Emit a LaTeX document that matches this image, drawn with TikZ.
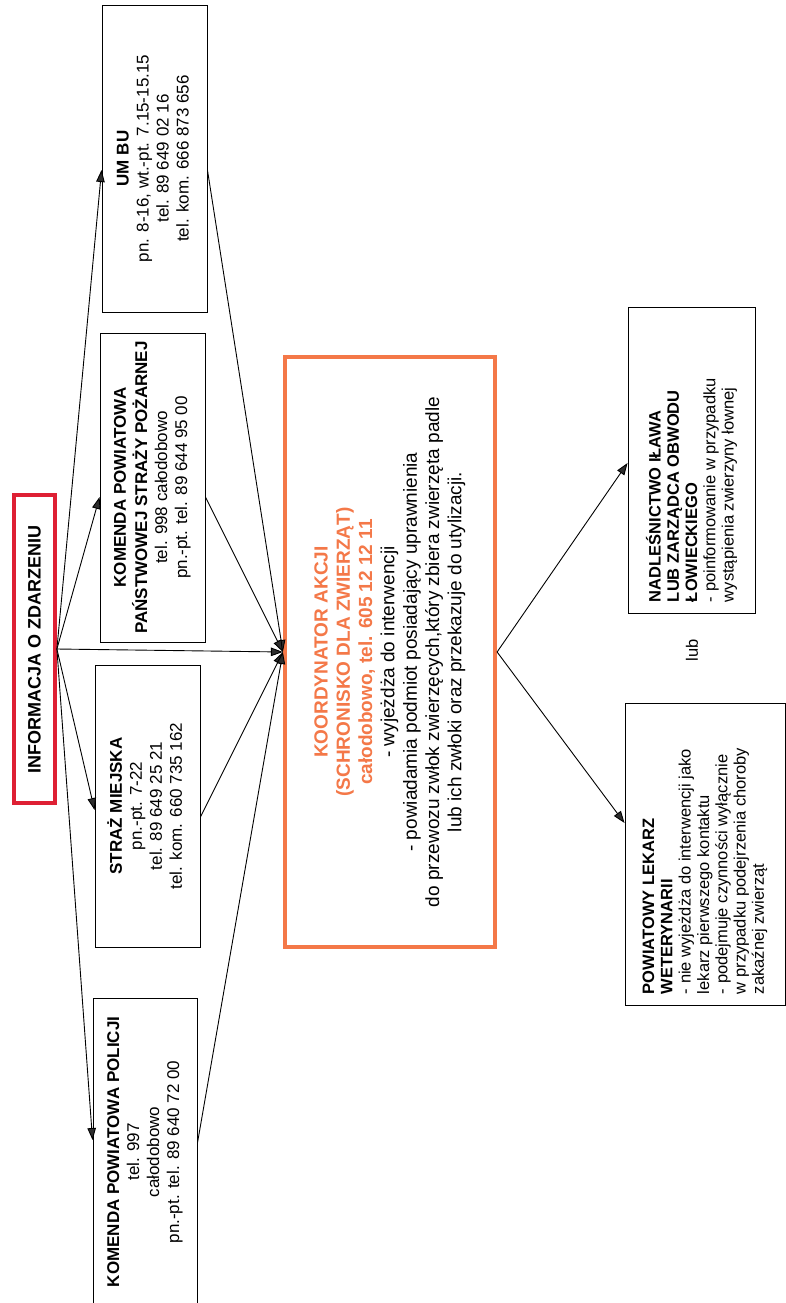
\documentclass[tikz,border=0pt]{standalone}
\usepackage{graphicx}
\usepackage{fontspec}
\setmainfont{Liberation Sans}
\usetikzlibrary{arrows.meta}
\definecolor{infored}{RGB}{222,32,52}
\definecolor{korange}{RGB}{244,120,72}
\definecolor{tipgray}{RGB}{45,45,45}
\newcommand{\boxfont}{\fontsize{17}{20}\selectfont}
\newcommand{\sidefont}{\fontsize{16.5}{18.3}\selectfont}
\newcommand{\kfont}{\fontsize{19}{22.3}\selectfont}
\tikzset{
  box/.style={draw=black, line width=0.9pt, inner sep=0pt, fill=white, rectangle},
  conn/.style={draw=black, line width=0.9pt, -{Triangle[length=12pt,width=8.5pt,fill=tipgray]}},
}
\begin{document}
\begin{tikzpicture}[x=1pt,y=-1pt]
\useasboundingbox[fill=white] (0,0) rectangle (785,1303);

% source box
\node[box, draw=infored, line width=3.8pt, minimum width=41pt, minimum height=308pt] (info) at (34.5,649)
  {\rotatebox{90}{\fontsize{18}{21}\selectfont\bfseries INFORMACJA O ZDARZENIU}};

% column of services
\node[box, minimum width=105pt, minimum height=307pt] (umbu) at (154.5,158.5)
  {\rotatebox{90}{\boxfont\begin{tabular}{@{}c@{}}\textbf{UM BU}\\pn. 8-16, wt.-pt. 7.15-15.15\\tel. 89 649 02 16\\tel. kom. 666 873 656\end{tabular}}};
\node[box, minimum width=105pt, minimum height=309pt] (kppsp) at (152.5,487.5)
  {\rotatebox{90}{\boxfont\begin{tabular}{@{}c@{}}\textbf{KOMENDA POWIATOWA}\\\textbf{PAŃSTWOWEJ STRAŻY POŻARNEJ}\\tel. 998 całodobowo\\pn.-pt. tel. 89 644 95 00\end{tabular}}};
\node[box, minimum width=105pt, minimum height=282pt] (straz) at (147.5,806)
  {\rotatebox{90}{\boxfont\begin{tabular}{@{}c@{}}\textbf{STRAŻ MIEJSKA}\\pn.-pt. 7-22\\tel. 89 649 25 21\\tel. kom. 660 735 162\end{tabular}}};
\node[box, minimum width=104pt, minimum height=308pt] (policja) at (145,1152)
  {\rotatebox{90}{\boxfont\begin{tabular}{@{}c@{}}\textbf{KOMENDA POWIATOWA POLICJI}\\tel. 997\\całodobowo\\pn.-pt. tel. 89 640 72 00\end{tabular}}};

% coordinator
\node[box, draw=korange, line width=4.2pt, minimum width=210pt, minimum height=590pt] (koord) at (390,652)
  {\rotatebox{90}{\kfont\begin{tabular}{@{}c@{}}
   \color{korange}\bfseries KOORDYNATOR AKCJI\\
   \color{korange}\bfseries (SCHRONISKO DLA ZWIERZĄT)\\
   \color{korange}\bfseries całodobowo, tel. 605 12 12 11\\
   - wyjeżdża do interwencji\\
   - powiadamia podmiot posiadający uprawnienia\\
   do przewozu zwłok zwierzęcych,który zbiera zwierzęta padle\\
   lub ich zwłoki oraz przekazuje do utylizacji.
  \end{tabular}}};

% right boxes
\node[box, minimum width=127pt, minimum height=306pt] (nadl) at (691.5,460)
  {\rotatebox{90}{\parbox{284pt}{\sidefont\raggedright
   \textbf{NADLEŚNICTWO IŁAWA}\\
   \textbf{LUB ZARZĄDCA OBWODU}\\
   \textbf{ŁOWIECKIEGO}\\
   - poinformowanie w przypadku\\
   wystąpienia zwierzyny łownej}}};
\node[box, minimum width=160pt, minimum height=302pt] (pow) at (705,854)
  {\rotatebox{90}{\parbox{280pt}{\sidefont\raggedright
   \textbf{POWIATOWY LEKARZ}\\
   \textbf{WETERYNARII}\\
   - nie wyjeżdża do interwencji jako\\
   lekarz pierwszego kontaktu\\
   - podejmuje czynności wyłącznie\\
   w przypadku podejrzenia choroby\\
   zakaźnej zwierząt}}};
\node[rotate=90, inner sep=0pt, font=\sidefont] (lub) at (692,650) {lub};

% connectors: information -> services
\draw[conn] (info.east) -- ([yshift=-11.5pt]umbu.west);
\draw[conn] (info.east) -- ([yshift=-9.5pt]kppsp.west);
\draw[conn] (info.east) -- ([yshift=-4pt]straz.west);
\draw[conn] (info.east) -- ([yshift=12pt]policja.west);
\draw[conn] (info.east) -- (koord.west);
% services -> coordinator
\draw[conn] ([yshift=-11.5pt]umbu.east) -- (koord.west);
\draw[conn] ([yshift=-9.5pt]kppsp.east) -- (koord.west);
\draw[conn] ([yshift=-11pt]straz.east) -- (koord.west);
\draw[conn] ([yshift=9pt]policja.east) -- (koord.west);
% coordinator -> right boxes
\draw[conn] (koord.east) -- ([yshift=-3pt]nadl.west);
\draw[conn] (koord.east) -- ([yshift=31pt]pow.west);
\end{tikzpicture}
\end{document}
